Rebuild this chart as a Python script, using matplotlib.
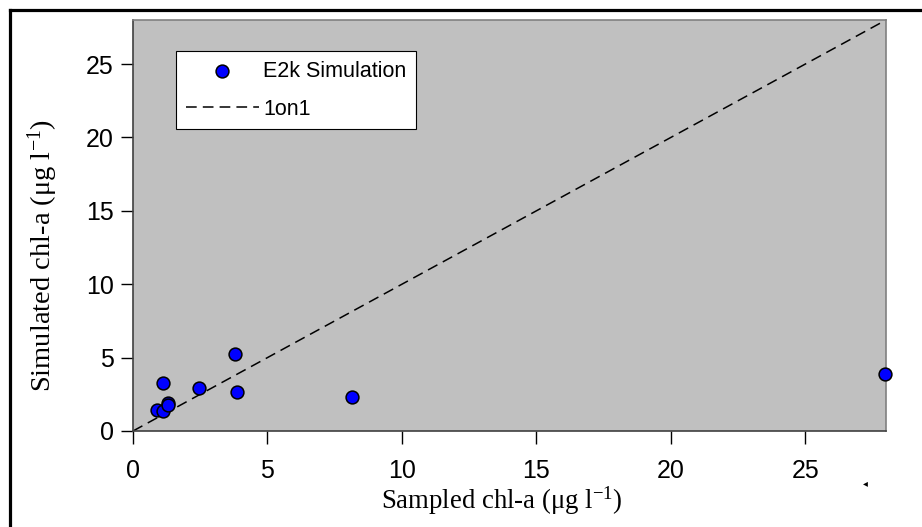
import matplotlib
matplotlib.use("Agg")
import matplotlib.pyplot as plt
from matplotlib.lines import Line2D

plt.rcParams["font.family"] = ["Liberation Sans", "DejaVu Sans"]
plt.rcParams["mathtext.fontset"] = "custom"
plt.rcParams["mathtext.rm"] = "Liberation Serif"
plt.rcParams["mathtext.it"] = "Liberation Serif"

# sampled vs simulated chlorophyll-a (ug/l)
sampled = [0.88, 1.13, 1.29, 1.31, 1.10, 2.47, 3.79, 3.85, 8.15, 27.95]
simulated = [1.43, 1.38, 1.92, 1.77, 3.28, 2.90, 5.23, 2.67, 2.29, 3.87]
one_to_one = [0, 28]
ticks = [0, 5, 10, 15, 20, 25]

fig = plt.figure(figsize=(9.22, 5.27), dpi=100)
ax = fig.add_axes([133 / 922, 1 - 431 / 527, 753 / 922, 411 / 527])
ax.set_facecolor("#c0c0c0")

ax.scatter(sampled, simulated, s=85, color="#0000ff", edgecolors="black",
           linewidths=1.1, zorder=3, clip_on=False, label="E2k Simulation")
ax.plot(one_to_one, one_to_one, color="black", lw=1.1, dashes=(7, 4),
        zorder=2, label="1on1")

ax.set_xlim(0, 28)
ax.set_ylim(0, 28)
ax.set_xticks(ticks)
ax.set_yticks(ticks)
ax.tick_params(axis="x", direction="out", length=9, width=1, pad=11, labelsize=18)
ax.tick_params(axis="y", direction="out", length=9, width=1, pad=5, labelsize=18)

for side in ("left", "bottom"):
    ax.spines[side].set_color("#404040")
    ax.spines[side].set_linewidth(1.2)
for side in ("right", "top"):
    ax.spines[side].set_color("#808080")
    ax.spines[side].set_linewidth(1.2)

leg = ax.legend(loc="upper left", bbox_to_anchor=(0.057, 0.925), borderaxespad=0,
                fontsize=15.5, frameon=True, fancybox=False, framealpha=1,
                edgecolor="black", handlelength=3.4, handletextpad=0.2,
                borderpad=0.45, labelspacing=0.8, markerscale=1.0)
leg.get_frame().set_linewidth(0.8)

fig.text(502 / 922, 1 - 501 / 527, "Sampled chl-a (\u03bcg l$^{-1}$)",
         family=["Liberation Serif", "DejaVu Serif"], fontsize=19.3,
         ha="center", va="center")
fig.text(42.5 / 922, 1 - 255 / 527, "Simulated chl-a (\u03bcg l$^{-1}$)",
         family=["Liberation Serif", "DejaVu Serif"], fontsize=20.5,
         ha="center", va="center", rotation=90)

fig.text(865 / 922, 1 - 483 / 527, "\u25c2", fontsize=7, ha="center", va="center",
         family=["DejaVu Sans"])

# outer frame (left and top edges)
fx, fy = 10 / 922, 1 - 10 / 527
fig.add_artist(Line2D([fx, fx], [0, fy], color="black", lw=2.3,
                      transform=fig.transFigure, solid_capstyle="projecting"))
fig.add_artist(Line2D([fx, 1], [fy, fy], color="black", lw=2.3,
                      transform=fig.transFigure, solid_capstyle="projecting"))

fig.savefig("out.png", dpi=100)
